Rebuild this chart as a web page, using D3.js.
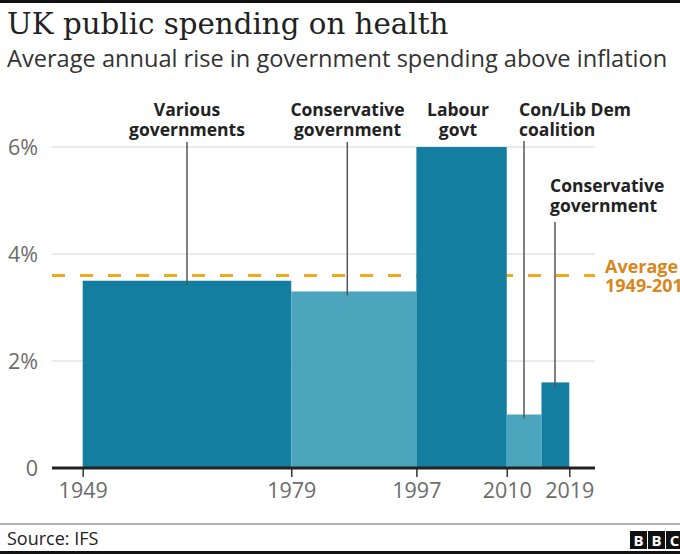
<!DOCTYPE html>
<html><head><meta charset="utf-8">
<script src="https://cdn.jsdelivr.net/npm/d3@7"></script>
<style>
html,body{margin:0;padding:0;background:#fff;}
svg{display:block;}
</style></head>
<body>
<script>
// ---- data ----
const periodStart = [1949, 1979, 1997, 2010, 2015];
const periodEnd   = [1979, 1997, 2010, 2015, 2019];
const riseValues  = [3.5, 3.3, 6.0, 1.0, 1.6];
const periodLabels = [
  ["Various", "governments"],
  ["Conservative", "government"],
  ["Labour", "govt"],
  ["Con/Lib Dem", "coalition"],
  ["Conservative", "government"]
];
const averageValue = 3.6;
const averageLabel = ["Average", "1949-2019"];
const xTickYears = [1949, 1979, 1997, 2010, 2019];
const yTickValues = [0, 2, 4, 6];
const yTickLabels = ["0", "2%", "4%", "6%"];
const titleText = "UK public spending on health";
const subtitleText = "Average annual rise in government spending above inflation";
const sourceText = "Source: IFS";

// ---- layout ----
const W = 680, H = 554;
const dark = "#137ea0", light = "#4ba6bd";
const svg = d3.select("body").append("svg").attr("width", W).attr("height", H);

svg.append("rect").attr("x",0).attr("y",0).attr("width",W).attr("height",3).attr("fill","#111");

svg.append("text").attr("x",7).attr("y",34).text(titleText)
  .attr("font-family","'DejaVu Serif', serif").attr("font-size",29.3).attr("fill","#222");
svg.append("text").attr("x",7).attr("y",67).text(subtitleText)
  .attr("font-family","'Open Sans', sans-serif").attr("font-size",23.6).attr("fill","#333");

const x = d3.scaleLinear().domain([1949, 2019]).range([82.7, 569.3]);
const y = d3.scaleLinear().domain([0, 6]).range([468, 147]);
const gridX0 = 52, gridX1 = 595;

// gridlines
svg.append("g").selectAll("line").data(yTickValues.filter(v => v > 0)).join("line")
  .attr("x1", gridX0).attr("x2", gridX1)
  .attr("y1", d => y(d)).attr("y2", d => y(d))
  .attr("stroke", "#d6d6d6").attr("stroke-width", 1);

// y labels
svg.append("g").selectAll("text").data(yTickValues).join("text")
  .attr("x", 38).attr("y", d => y(d)).attr("dy", "0.36em")
  .attr("text-anchor", "end")
  .attr("font-family","'Open Sans', sans-serif").attr("font-size",21.5).attr("fill","#6b6b6b")
  .text((d,i) => yTickLabels[i]);

// average dashed line
svg.append("line").attr("x1", gridX0).attr("x2", gridX1)
  .attr("y1", y(averageValue)).attr("y2", y(averageValue))
  .attr("stroke", "#f2a91c").attr("stroke-width", 3).attr("stroke-dasharray", "13,15");

// bars
svg.append("g").selectAll("rect").data(riseValues).join("rect")
  .attr("x", (d,i) => x(periodStart[i]))
  .attr("width", (d,i) => x(periodEnd[i]) - x(periodStart[i]))
  .attr("y", d => y(d))
  .attr("height", d => y(0) - y(d))
  .attr("fill", (d,i) => i % 2 === 0 ? dark : light);

// x axis
const xAxis = d3.axisBottom(x).tickValues(xTickYears).tickFormat(d3.format("d")).tickSize(9).tickPadding(6);
const gx = svg.append("g").attr("transform", `translate(0,${y(0)})`).call(xAxis);
gx.select(".domain").remove();
gx.selectAll(".tick line").attr("stroke","#333").attr("stroke-width",1.5);
gx.selectAll(".tick text").attr("font-family","'Open Sans', sans-serif").attr("font-size",21.5).attr("fill","#6b6b6b");
svg.append("line").attr("x1", gridX0).attr("x2", gridX1).attr("y1", y(0)).attr("y2", y(0))
  .attr("stroke","#222").attr("stroke-width",3);

// annotations: label placement per period
const labelLayout = [
  {anchor:"middle", lx: 187, ly: 116, lineX: 187, lineTop: 142},
  {anchor:"middle", lx: 347.5, ly: 116, lineX: 347.3, lineTop: 142},
  {anchor:"middle", lx: 458, ly: 116, lineX: null},
  {anchor:"start", lx: 519, ly: 116, lineX: 524, lineTop: 141},
  {anchor:"start", lx: 550, ly: 192, lineX: 555, lineTop: 222}
];
const ann = svg.append("g");
labelLayout.forEach((L, i) => {
  if (L.lineX !== null) {
    ann.append("line").attr("x1", L.lineX).attr("x2", L.lineX)
      .attr("y1", L.lineTop).attr("y2", y(riseValues[i]) + 4)
      .attr("stroke","#555").attr("stroke-width",1.5);
  }
  periodLabels[i].forEach((s, j) => {
    ann.append("text").attr("text-anchor", L.anchor)
      .attr("font-family","'Open Sans', sans-serif").attr("font-weight",700)
      .attr("font-size",17.5).attr("fill","#222")
      .attr("x", L.lx).attr("y", L.ly + j*20).text(s);
  });
});

// average label
averageLabel.forEach((s, j) => svg.append("text").attr("font-family","'Open Sans', sans-serif").attr("font-weight",700)
  .attr("font-size",18).attr("fill","#d9861c").attr("x", 605).attr("y", 273 + j*19).text(s));

// footer
svg.append("line").attr("x1",0).attr("x2",W).attr("y1",524).attr("y2",524).attr("stroke","#999").attr("stroke-width",1.5);
svg.append("text").attr("x",7).attr("y",545).text(sourceText)
  .attr("font-family","'Open Sans', sans-serif").attr("font-size",18).attr("fill","#222");
const logo = svg.append("g");
["B","B","C"].forEach((c, i) => {
  logo.append("rect").attr("x", 630 + i*18).attr("y", 531).attr("width", 17).attr("height", 18).attr("fill", "#111");
  logo.append("text").attr("x", 630 + i*18 + 8.5).attr("y", 546).attr("text-anchor","middle")
    .attr("font-family","'Open Sans', sans-serif").attr("font-weight",700).attr("font-size",15).attr("fill","#fff").text(c);
});
svg.append("rect").attr("x",0).attr("y",551).attr("width",W).attr("height",3).attr("fill","#111");
</script>
</body></html>
